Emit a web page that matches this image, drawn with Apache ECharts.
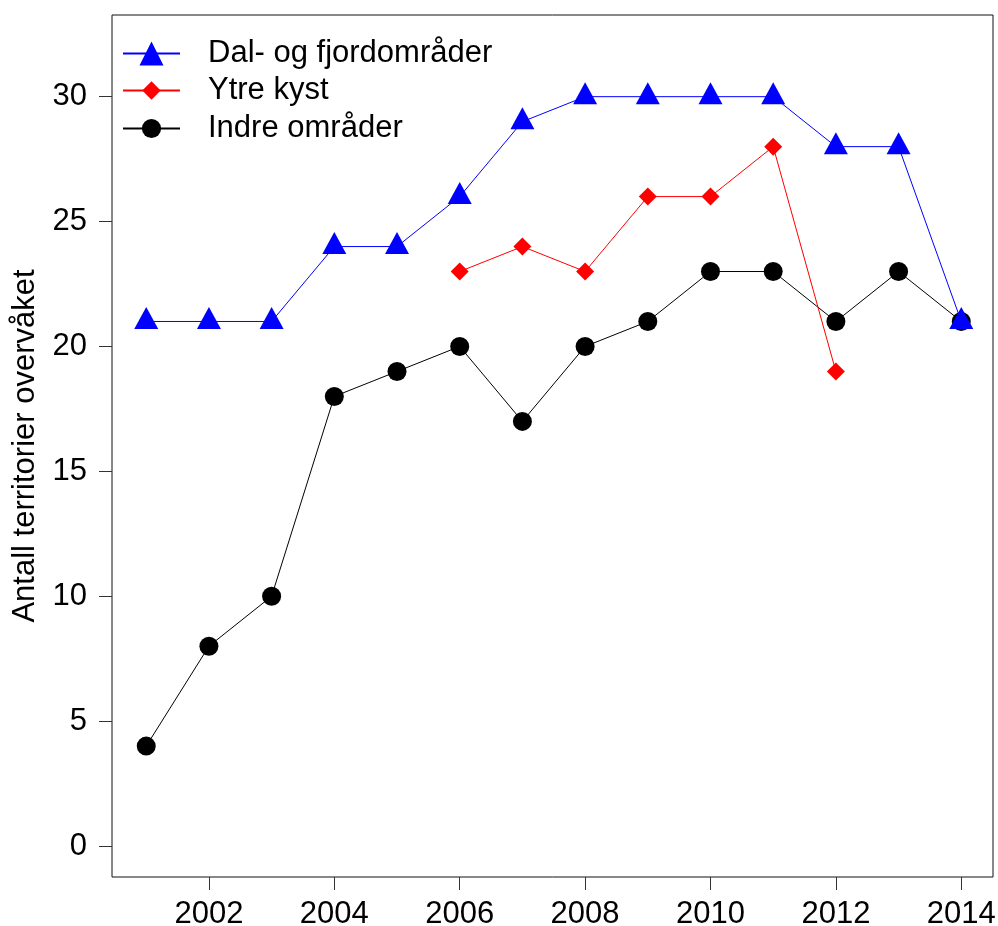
<!DOCTYPE html>
<html>
<head>
<meta charset="utf-8">
<script src="https://cdn.jsdelivr.net/npm/echarts@6/dist/echarts.min.js"></script>
<style>
  html, body { margin: 0; padding: 0; background: #fff; }
  #chart { width: 998px; height: 926px; }
</style>
</head>
<body>
<div id="chart"></div>
<script>
// Monitored territories per region, 2001–2014
const years = [2001, 2002, 2003, 2004, 2005, 2006, 2007, 2008, 2009, 2010, 2011, 2012, 2013, 2014];
const dalFjord = [21, 21, 21, 24, 24, 26, 29, 30, 30, 30, 30, 28, 28, 21];
const ytreKyst = [null, null, null, null, null, 23, 24, 23, 26, 26, 28, 19, null, null];
const indre = [4, 8, 10, 18, 19, 20, 17, 20, 21, 23, 23, 21, 23, 21];

const seriesNames = ['Dal- og fjordområder', 'Ytre kyst', 'Indre områder'];
const xTicks = [2002, 2004, 2006, 2008, 2010, 2012, 2014];
const yTicks = [0, 5, 10, 15, 20, 25, 30];
const yTitle = 'Antall territorier overvåket';

const FONT = '"Liberation Sans", Arial, Helvetica, sans-serif';
const FS = 31;

function pairs(values) {
  const out = [];
  values.forEach((v, i) => { if (v !== null) out.push([years[i], v]); });
  return out;
}

const chart = echarts.init(document.getElementById('chart'), null, { renderer: 'canvas' });

const legendBase = {
  orient: 'vertical',
  left: 122,
  padding: 0,
  itemWidth: 57,
  itemGap: 0,
  textStyle: { fontFamily: FONT, fontSize: FS, color: '#000', padding: [0, 0, 0, 23] }
};

chart.setOption({
  animation: false,
  backgroundColor: '#fff',
  textStyle: { fontFamily: FONT },
  grid: {
    left: 112, right: 5, top: 15, bottom: 49,
    containLabel: false,
    outerBoundsMode: 'none',
    show: true, borderColor: '#111', borderWidth: 1, backgroundColor: 'transparent'
  },
  legend: [
    Object.assign({}, legendBase, { data: [seriesNames[0]], top: 38, itemHeight: 30 }),
    Object.assign({}, legendBase, { data: [seriesNames[1]], top: 75, itemHeight: 23 }),
    Object.assign({}, legendBase, { data: [seriesNames[2]], top: 113, itemHeight: 24 })
  ],
  xAxis: {
    type: 'value',
    min: 2000.454,
    max: 2014.506,
    axisLine: { show: false, onZero: false },
    splitLine: { show: false },
    axisTick: { show: true, inside: false, length: 13, customValues: xTicks, lineStyle: { color: '#333', width: 1 } },
    axisLabel: {
      customValues: xTicks, margin: 22, fontSize: FS, color: '#000', fontFamily: FONT,
      formatter: v => String(Math.round(v))
    }
  },
  yAxis: {
    type: 'value',
    min: -1.24,
    max: 33.27,
    name: yTitle,
    nameLocation: 'middle',
    nameRotate: 90,
    nameGap: 71,
    nameTextStyle: { fontSize: FS, color: '#000', fontFamily: FONT },
    axisLine: { show: false, onZero: false },
    splitLine: { show: false },
    axisTick: { show: true, inside: false, length: 13, customValues: yTicks, lineStyle: { color: '#333', width: 1 } },
    axisLabel: {
      customValues: yTicks, margin: 25, fontSize: FS, color: '#000', fontFamily: FONT,
      formatter: v => String(Math.round(v))
    }
  },
  series: [
    {
      name: seriesNames[2],
      type: 'line',
      z: 2,
      data: pairs(indre),
      symbol: 'circle',
      symbolSize: 19,
      lineStyle: { color: '#000', width: 1 },
      itemStyle: { color: '#000' },
      emphasis: { disabled: true }
    },
    {
      name: seriesNames[1],
      type: 'line',
      z: 3,
      data: pairs(ytreKyst),
      symbol: 'diamond',
      symbolSize: 18,
      lineStyle: { color: '#ff0000', width: 1 },
      itemStyle: { color: '#ff0000' },
      emphasis: { disabled: true }
    },
    {
      name: seriesNames[0],
      type: 'line',
      z: 4,
      data: pairs(dalFjord),
      symbol: 'triangle',
      symbolSize: [24, 22],
      symbolOffset: [0, -3.5],
      lineStyle: { color: '#0000ff', width: 1 },
      itemStyle: { color: '#0000ff' },
      emphasis: { disabled: true }
    }
  ]
});
</script>
</body>
</html>
